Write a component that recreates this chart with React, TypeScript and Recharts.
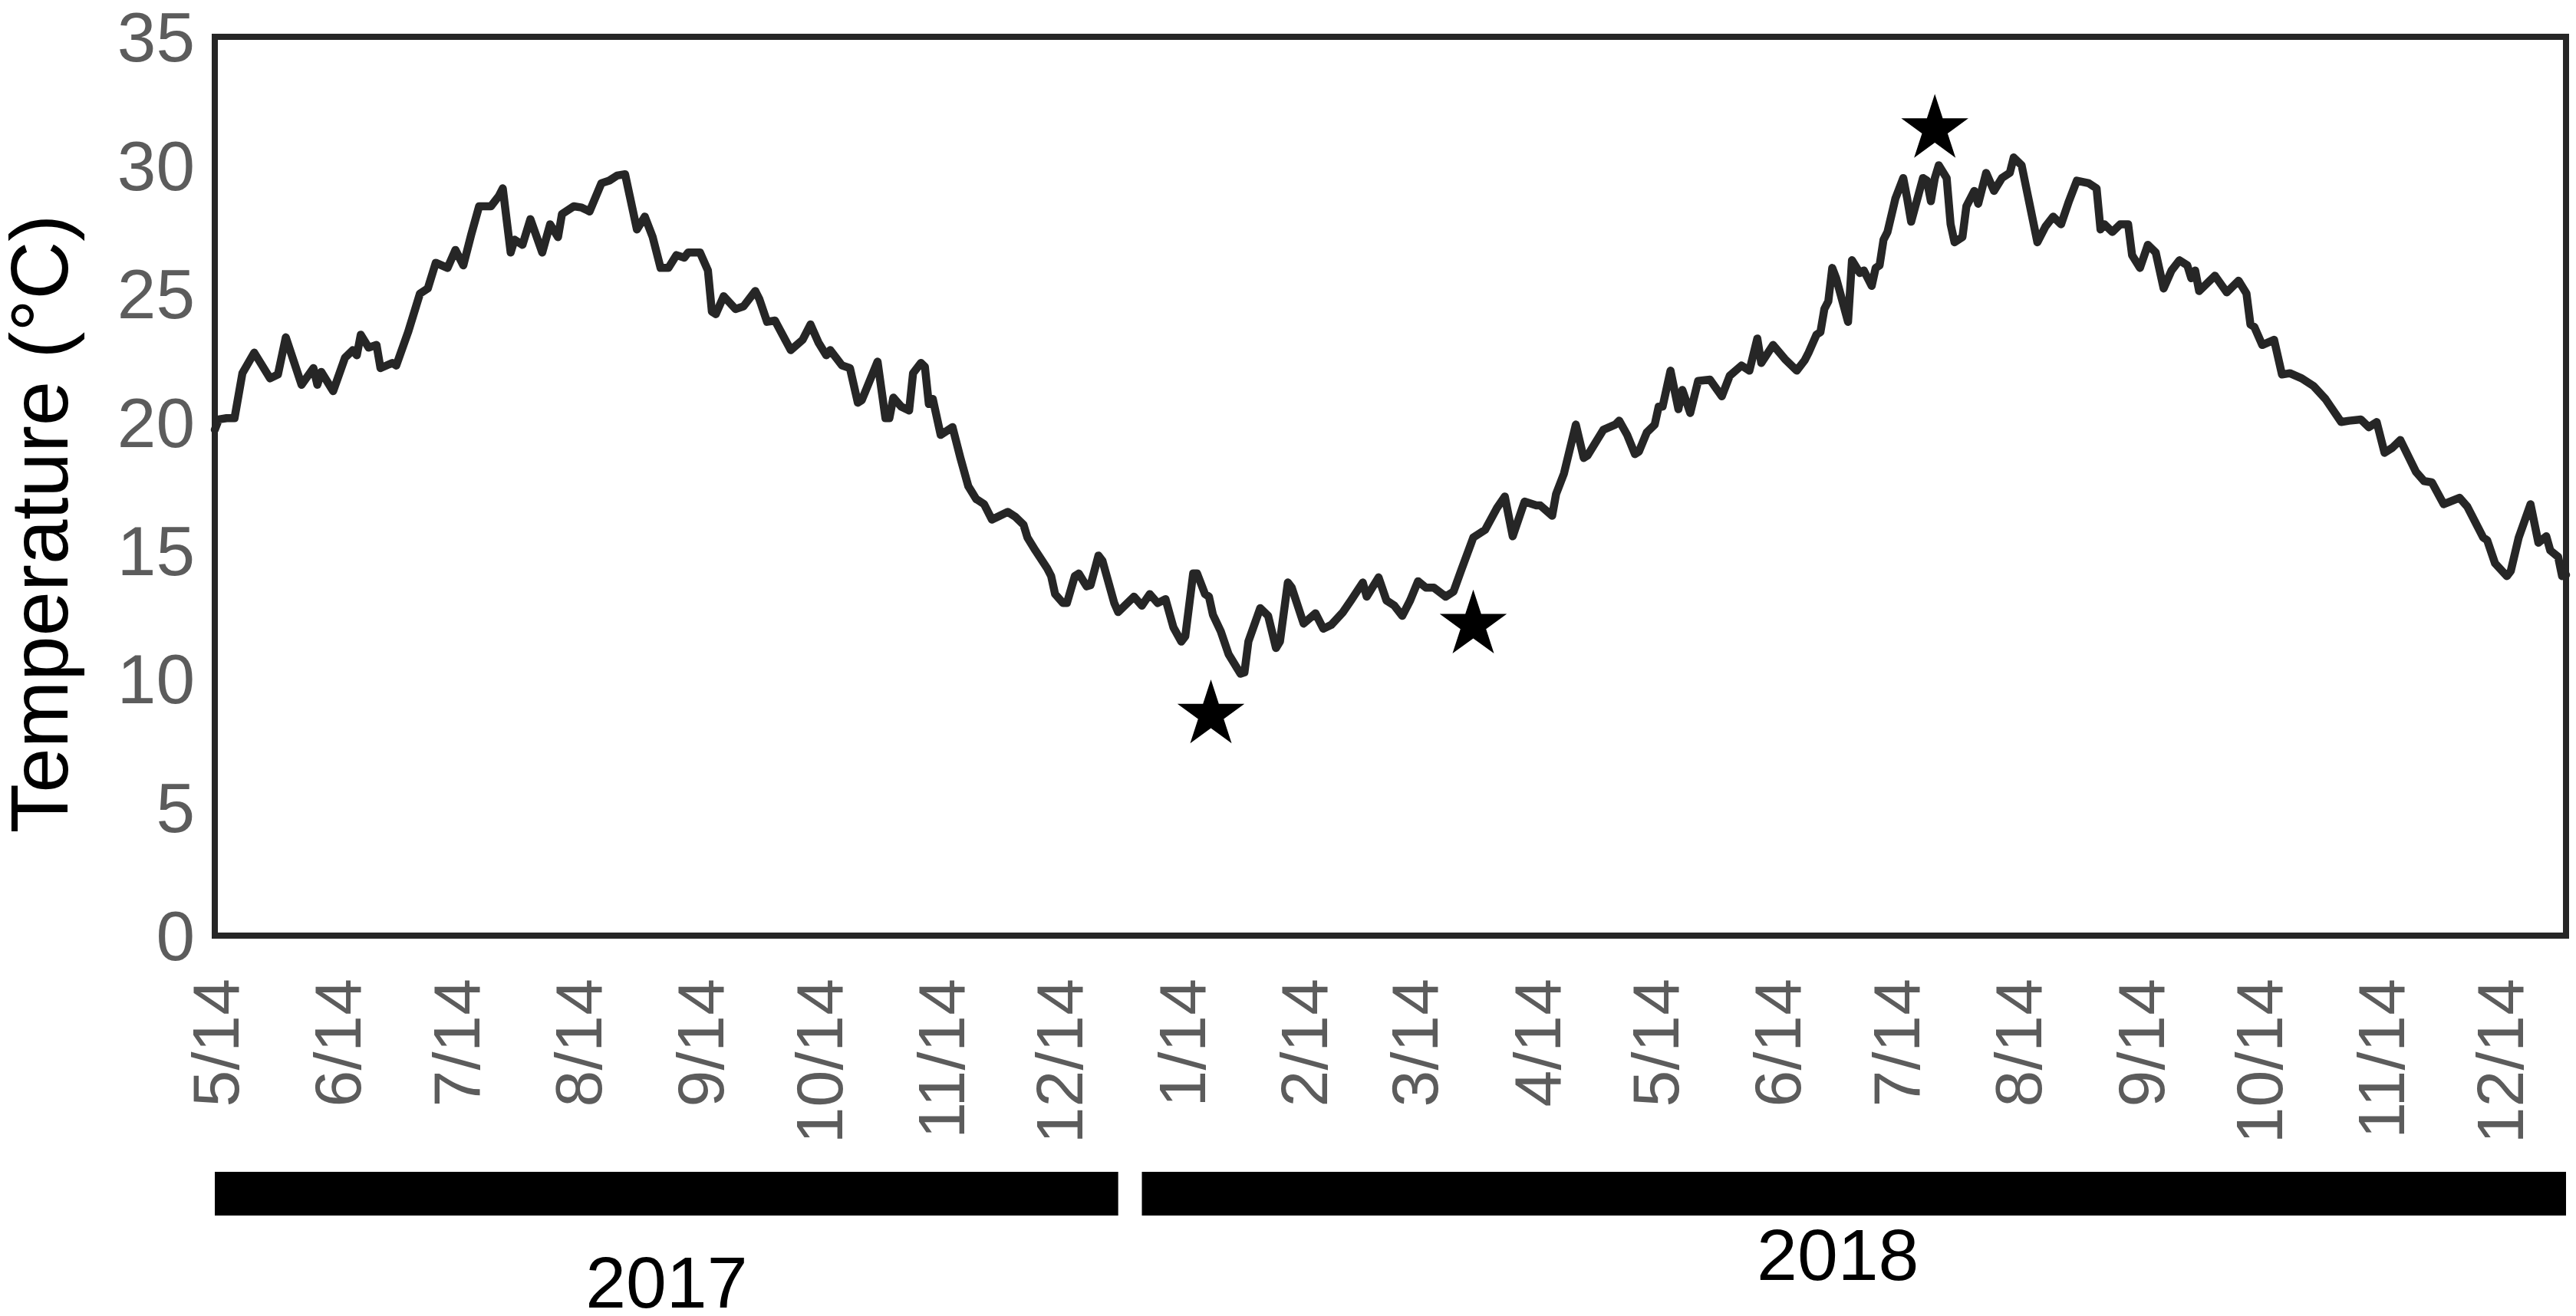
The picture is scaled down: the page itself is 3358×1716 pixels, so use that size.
import React from 'react';
import { ComposedChart, Line, XAxis, YAxis, ReferenceArea, Scatter } from 'recharts';

const FONT = '"Liberation Sans", Arial, Helvetica, sans-serif';

// Day index, 0 = 5/14/2017 (596 = 12/31/2018)
const dayIndex = [
  0, 1, 3, 5, 7, 10, 14, 16, 18, 22, 25, 26, 27, 30, 33, 35, 36, 37, 39, 41, 42, 45, 46, 49, 51, 52, 54, 56, 59, 61,
  63, 65, 67, 70, 72, 73, 75, 76, 78, 80, 83, 85, 87, 88, 91, 93, 95, 98, 100, 102, 104, 107, 109, 111, 113, 115,
  117, 119, 120, 123, 125, 126, 127, 129, 132, 134, 137, 138, 140, 142, 146, 149, 151, 153, 155, 156, 159, 161, 163,
  164, 168, 170, 171, 172, 174, 176, 177, 179, 180, 181, 182, 184, 187, 189, 191, 193, 195, 197, 201, 203, 205, 206,
  208, 211, 212, 213, 215, 216, 218, 219, 221, 222, 224, 225, 228, 229, 233, 235, 237, 239, 241, 243, 245, 246, 248,
  249, 251, 252, 253, 255, 257, 260, 261, 262, 265, 267, 269, 270, 272, 273, 276, 279, 281, 283, 286, 288, 291, 292,
  295, 297, 299, 301, 303, 305, 307, 309, 312, 314, 316, 319, 322, 325, 327, 329, 332, 335, 336, 339, 340, 342, 345,
  347, 348, 352, 355, 356, 358, 360, 361, 363, 365, 366, 367, 369, 371, 372, 374, 376, 379, 382, 384, 387, 389, 391,
  392, 395, 398, 401, 403, 404, 406, 407, 408, 409, 410, 411, 414, 415, 417, 418, 420, 421, 422, 423, 424, 426, 428,
  429, 430, 433, 434, 435, 436, 437, 439, 440, 441, 443, 444, 446, 447, 449, 451, 453, 455, 456, 458, 460, 462, 464,
  466, 468, 470, 472, 475, 477, 478, 479, 481, 483, 485, 486, 488, 490, 492, 494, 496, 498, 500, 501, 502, 503, 505,
  507, 510, 513, 515, 516, 517, 519, 522, 524, 526, 529, 532, 535, 539, 541, 544, 546, 548, 550, 552, 554, 558, 560,
  562, 565, 569, 571, 575, 576, 578, 581, 582, 584, 587, 589, 591, 592, 594, 595, 596,
];

const tempC = [
  19.7, 20.1, 20.15, 20.15, 21.9, 22.7, 21.7, 21.85, 23.3, 21.45, 22.1, 21.45, 21.95, 21.2, 22.5, 22.8, 22.6, 23.4,
  22.9, 23.0, 22.1, 22.3, 22.2, 23.5, 24.5, 25.0, 25.2, 26.2, 26.0, 26.7, 26.1, 27.3, 28.4, 28.4, 28.8, 29.1, 26.6,
  27.1, 26.9, 27.9, 26.6, 27.7, 27.2, 28.1, 28.4, 28.35, 28.2, 29.3, 29.4, 29.6, 29.65, 27.5, 28.0, 27.2, 26.0, 26.0,
  26.5, 26.4, 26.6, 26.6, 25.9, 24.3, 24.2, 24.9, 24.4, 24.5, 25.1, 24.8, 23.9, 23.95, 22.8, 23.2, 23.8, 23.1, 22.6,
  22.8, 22.2, 22.1, 20.75, 20.85, 22.35, 20.15, 20.15, 20.95, 20.6, 20.45, 21.9, 22.3, 22.15, 20.7, 20.9, 19.5, 19.8,
  18.6, 17.5, 17.0, 16.8, 16.2, 16.5, 16.3, 16.0, 15.5, 15.0, 14.3, 14.0, 13.3, 12.95, 12.95, 14.0, 14.1, 13.6,
  13.65, 14.8, 14.6, 12.95, 12.6, 13.2, 12.85, 13.3, 12.95, 13.1, 12.0, 11.45, 11.65, 14.1, 14.1, 13.3, 13.2, 12.5,
  11.85, 10.95, 10.2, 10.25, 11.45, 12.75, 12.45, 11.2, 11.45, 13.75, 13.55, 12.15, 12.55, 11.95, 12.1, 12.6, 13.05,
  13.75, 13.2, 13.95, 13.05, 12.85, 12.45, 13.05, 13.8, 13.55, 13.55, 13.2, 13.4, 14.25, 15.5, 15.8, 16.65, 17.1,
  15.55, 16.9, 16.75, 16.75, 16.35, 17.2, 18.0, 19.9, 18.6, 18.7, 19.7, 19.9, 20.05, 19.5, 18.75, 18.85, 19.6, 19.9,
  20.6, 20.6, 22.0, 20.5, 21.25, 20.35, 21.6, 21.65, 21.0, 21.8, 22.2, 22.0, 23.25, 22.3, 23.0, 22.45, 22.0, 22.4,
  22.7, 23.4, 23.5, 24.4, 24.7, 26.0, 25.6, 23.9, 26.3, 25.8, 25.9, 25.3, 26.0, 26.1, 27.1, 27.4, 28.7, 29.5, 28.7,
  27.8, 29.5, 29.4, 28.6, 29.5, 30.0, 29.5, 27.7, 27.0, 27.2, 28.4, 29.0, 28.5, 29.7, 29.0, 29.5, 29.7, 30.3, 30.0,
  28.5, 27.0, 27.6, 28.0, 27.7, 28.6, 29.4, 29.3, 29.1, 27.5, 27.7, 27.4, 27.7, 27.7, 26.5, 26.0, 26.9, 26.6, 25.2,
  25.9, 26.3, 26.1, 25.6, 25.9, 25.1, 25.4, 25.7, 25.05, 25.5, 25.0, 23.8, 23.7, 23.0, 23.2, 21.85, 21.9, 21.7, 21.4,
  20.9, 20.0, 20.05, 20.1, 19.8, 20.0, 18.8, 19.0, 19.3, 18.05, 17.7, 17.65, 16.8, 17.05, 16.7, 15.5, 15.4, 14.5,
  14.0, 14.2, 15.5, 16.8, 15.3, 15.55, 15.0, 14.75, 14.0, 14.05,
];

const tickDays = [0, 31, 61, 92, 123, 153, 184, 214, 245, 276, 304, 335, 365, 396, 426, 457, 488, 518, 549, 579];
const tickLabels = [
  '5/14', '6/14', '7/14', '8/14', '9/14', '10/14', '11/14', '12/14',
  '1/14', '2/14', '3/14', '4/14', '5/14', '6/14', '7/14', '8/14', '9/14', '10/14', '11/14', '12/14',
];
const yTicks = [0, 5, 10, 15, 20, 25, 30, 35];

const starDays = [252.5, 319, 436];
const starTemps = [8.6, 12.1, 31.4];

const yearNames = ['2017', '2018'];
const yearStartDay = [0, 235];
const yearEndDay = [229, 596];

// layout / style constants
const X_MAX = 596;
const BAR_TOP = -9.2;
const BAR_BOTTOM = -10.9;
const YEAR_LABEL_SHIFT_X = [0, -21];
const YEAR_LABEL_SHIFT_Y = [120, 84];
const GREY = '#5c5c5c';
const INK = '#262626';

const series = dayIndex.map((d, i) => ({ day: d, temp: tempC[i] }));
const stars = starDays.map((d, i) => ({ day: d, temp: starTemps[i] }));

const XTick = (props: any) => {
  const { x, y, payload } = props;
  const i = tickDays.indexOf(payload.value);
  const label = i >= 0 ? tickLabels[i] : '';
  return (
    <text
      x={x}
      y={y}
      transform={`rotate(-90 ${x} ${y})`}
      textAnchor="end"
      dy="0.36em"
      fontSize={86}
      fill={GREY}
      fontFamily={FONT}
    >
      {label}
    </text>
  );
};

const YLabel = () => (
  <text
    x={88}
    y={683}
    transform="rotate(-90 88 683)"
    textAnchor="middle"
    fontSize={105}
    fill="#000"
    fontFamily={FONT}
  >
    Temperature (°C)
  </text>
);

const YearLabel = (props: any) => {
  const { viewBox, txt, shiftX, shiftY } = props;
  if (!viewBox) return null;
  const { x, y, width, height } = viewBox;
  return (
    <text
      x={x + width / 2 + shiftX}
      y={y + height + shiftY}
      textAnchor="middle"
      fontSize={95}
      fill="#000"
      fontFamily={FONT}
    >
      {txt}
    </text>
  );
};

const Star = (props: any) => {
  const { cx, cy } = props;
  if (cx == null || cy == null) return null;
  const R = 46;
  const r = R * 0.382;
  const pts: string[] = [];
  for (let k = 0; k < 10; k++) {
    const rad = k % 2 === 0 ? R : r;
    const a = -Math.PI / 2 + (k * Math.PI) / 5;
    pts.push(`${cx + rad * Math.cos(a)},${cy + rad * Math.sin(a)}`);
  }
  return <polygon points={pts.join(' ')} fill="#000" />;
};

export default function App() {
  return (
    <div style={{ width: 3358, height: 1716, background: '#fff', overflow: 'hidden' }}>
      <style>{'html,body{margin:0;padding:0;overflow:hidden;background:#fff}'}</style>
      <ComposedChart
        width={3358}
        height={1716}
        data={series}
        margin={{ top: 48, right: 13, left: 0, bottom: 396 }}
      >
        <XAxis
          dataKey="day"
          type="number"
          domain={[0, X_MAX]}
          ticks={tickDays}
          interval={0}
          tick={<XTick />}
          tickLine={false}
          axisLine={false}
          tickSize={0}
          tickMargin={56}
          height={100}
        />
        <YAxis
          type="number"
          domain={[0, 35]}
          ticks={yTicks}
          interval={0}
          tickLine={false}
          axisLine={false}
          tickSize={0}
          tickMargin={26}
          width={280}
          tick={{ fontSize: 91, fill: GREY, fontFamily: FONT }}
          label={<YLabel />}
        />
        <ReferenceArea
          x1={0}
          x2={X_MAX}
          y1={0}
          y2={35}
          fill="none"
          fillOpacity={0}
          stroke={INK}
          strokeWidth={8}
          ifOverflow="visible"
        />
        {yearNames.map((name, i) => (
          <ReferenceArea
            key={name}
            x1={yearStartDay[i]}
            x2={yearEndDay[i]}
            y1={BAR_BOTTOM}
            y2={BAR_TOP}
            fill="#000"
            fillOpacity={1}
            stroke="none"
            ifOverflow="visible"
            label={<YearLabel txt={name} shiftX={YEAR_LABEL_SHIFT_X[i]} shiftY={YEAR_LABEL_SHIFT_Y[i]} />}
          />
        ))}
        <Line
          type="linear"
          dataKey="temp"
          stroke={INK}
          strokeWidth={10.5}
          strokeLinejoin="round"
          strokeLinecap="round"
          dot={false}
          activeDot={false}
          isAnimationActive={false}
        />
        <Scatter data={stars} dataKey="temp" shape={(p: any) => <Star {...p} />} isAnimationActive={false} />
      </ComposedChart>
    </div>
  );
}
